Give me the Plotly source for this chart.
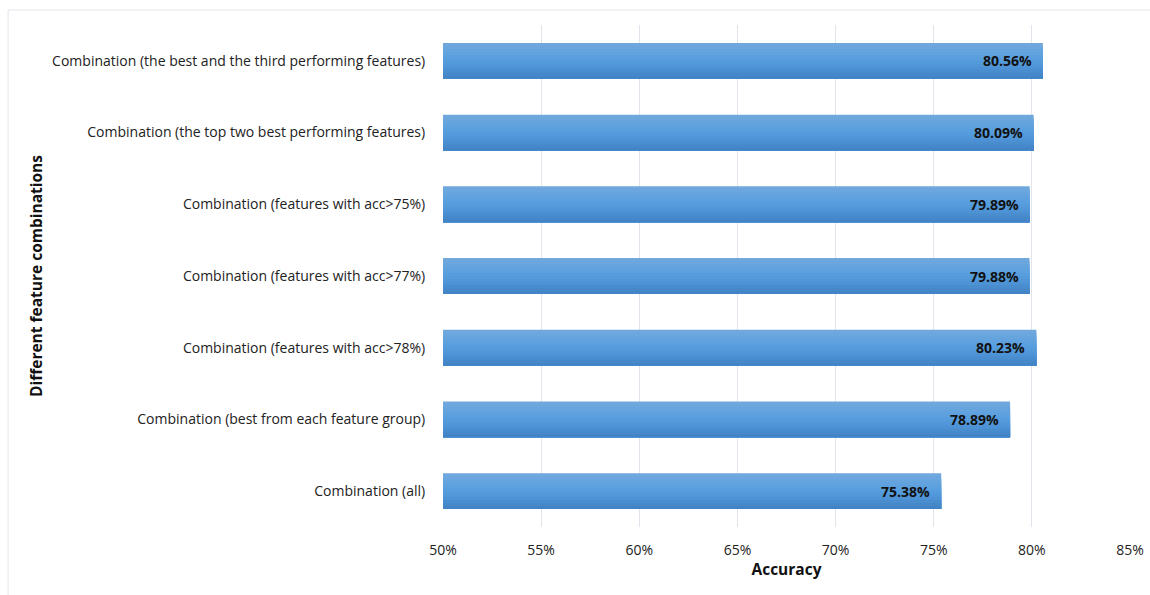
import plotly.graph_objects as go

# Feature combinations, listed top to bottom
categories = [
    "Combination (the best and the third performing features)",
    "Combination (the top two best performing features)",
    "Combination (features with acc>75%)",
    "Combination (features with acc>77%)",
    "Combination (features with acc>78%)",
    "Combination (best from each feature group)",
    "Combination (all)",
]
accuracy = [80.56, 80.09, 79.89, 79.88, 80.23, 78.89, 75.38]

x_ticks = [50, 55, 60, 65, 70, 75, 80, 85]
x_tick_text = ["50%", "55%", "60%", "65%", "70%", "75%", "80%", "85%"]

FONT = "Open Sans"
BAR_W = 0.5

# vertical gradient, light at the top of each bar to darker at the bottom
top_rgb = (0x72, 0xA9, 0xDE)
mid_rgb = (0x56, 0x9D, 0xDE)
bot_rgb = (0x41, 0x82, 0xC5)


def lerp(a, b, t):
    return tuple(round(a[i] + (b[i] - a[i]) * t) for i in range(3))


n_strips = 12
strip_w = BAR_W / n_strips

fig = go.Figure()
for i in range(n_strips):
    t = (i + 0.5) / n_strips
    if t < 0.5:
        c = lerp(top_rgb, mid_rgb, t / 0.5)
    else:
        c = lerp(mid_rgb, bot_rgb, (t - 0.5) / 0.5)
    start = -BAR_W / 2 + i * strip_w
    # each strip runs to the bottom edge; the next one covers its lower part
    fig.add_trace(go.Bar(
        x=accuracy,
        y=categories,
        orientation="h",
        base=0,
        width=BAR_W / 2 - start,
        offset=start,
        marker=dict(color="rgb(%d,%d,%d)" % c, line=dict(width=0)),
        hoverinfo="skip",
        showlegend=False,
    ))

# value labels at the inner end of each bar
for cat, val in zip(categories, accuracy):
    fig.add_annotation(
        x=val, y=cat, xref="x", yref="y",
        text="<b>%.2f%%</b>" % val,
        showarrow=False, xanchor="right", xshift=-9,
        font=dict(family=FONT, size=14, color="#111111"),
    )

# outer chart frame
fig.add_shape(
    type="rect", xref="paper", yref="paper",
    x0=-0.633, x1=1.2, y0=-0.3, y1=1.0299,
    line=dict(color="#e3e5ea", width=1), fillcolor="rgba(0,0,0,0)",
    layer="below",
)

fig.update_layout(
    width=1150, height=595,
    margin=dict(l=443, r=20, t=25, b=68, autoexpand=False),
    barmode="overlay",
    plot_bgcolor="white", paper_bgcolor="white",
    font=dict(family=FONT, size=14, color="#222222"),
    xaxis=dict(
        range=[50, 85], tickvals=x_ticks, ticktext=x_tick_text,
        automargin=False,
        showgrid=True, gridcolor="#e1e4ea", gridwidth=1,
        zeroline=False, showline=False,
        ticks="outside", ticklen=10, tickcolor="rgba(0,0,0,0)",
        tickfont=dict(family=FONT, size=14, color="#222222"),
        title=dict(text="<b>Accuracy</b>", standoff=6,
                   font=dict(family=FONT, size=15.5, color="#111111")),
    ),
    yaxis=dict(
        categoryorder="array", categoryarray=categories,
        autorange="reversed", automargin=False,
        showgrid=False, zeroline=False, showline=False,
        ticks="outside", ticklen=14, tickcolor="rgba(0,0,0,0)",
        tickfont=dict(family=FONT, size=14, color="#222222"),
        title=dict(text="<b>Different feature combinations</b>", standoff=5,
                   font=dict(family=FONT, size=15.5, color="#111111")),
    ),
)

fig.write_html("out.html")
